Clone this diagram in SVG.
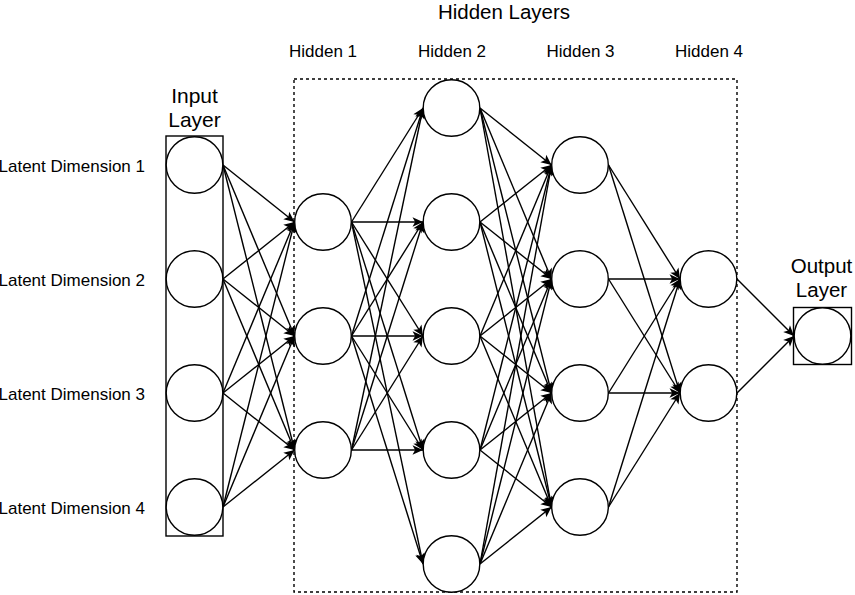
<svg xmlns="http://www.w3.org/2000/svg" width="855" height="595" viewBox="0 0 855 595">
<defs>
<style>
.n{fill:#fff;stroke:#000;stroke-width:1.4}
.box{fill:none;stroke:#000;stroke-width:1.4}
.dash{fill:none;stroke:#000;stroke-width:1.4;stroke-dasharray:3 3}
.e line{stroke:#000;stroke-width:1.4;marker-end:url(#arr)}
text{font-family:"Liberation Sans",Arial,Helvetica,sans-serif;fill:#000}
.lt{font-size:17px;text-anchor:end}
.hd{font-size:17px;text-anchor:middle}
.big{font-size:21px;text-anchor:middle}
</style>
<marker id="arr" markerUnits="userSpaceOnUse" markerWidth="12" markerHeight="10" refX="10.5" refY="5" orient="auto" overflow="visible">
<path d="M10.5,5 L0,0.2 L2.6,5 L0,9.8 Z" fill="#000"/>
</marker>
</defs>
<rect width="855" height="595" fill="#fff"/>
<g id="hidden-layers-frame">
<rect class="dash" x="294" y="79" width="443" height="513"/>
<text class="big" x="504" y="19" style="font-size:20.5px">Hidden Layers</text>
<text class="hd" x="323" y="57">Hidden 1</text>
<text class="hd" x="452" y="57">Hidden 2</text>
<text class="hd" x="580.5" y="57">Hidden 3</text>
<text class="hd" x="709" y="57">Hidden 4</text>
</g>
<g id="input-layer">
<rect class="box" x="166" y="136" width="57" height="400"/>
<text class="big" x="194.5" y="103">Input</text>
<text class="big" x="194.5" y="127">Layer</text>
</g>
<g id="output-layer">
<rect class="box" x="793.5" y="307.5" width="58" height="57"/>
<text class="big" x="821.5" y="273" style="font-size:20.5px">Output</text>
<text class="big" x="821.5" y="297" style="font-size:20.5px">Layer</text>
</g>
<g class="e" id="connectors">
<line x1="223" y1="165" x2="294.5" y2="222"/><line x1="223" y1="165" x2="294.5" y2="336"/><line x1="223" y1="165" x2="294.5" y2="450"/>
<line x1="223" y1="279" x2="294.5" y2="222"/><line x1="223" y1="279" x2="294.5" y2="336"/><line x1="223" y1="279" x2="294.5" y2="450"/>
<line x1="223" y1="393" x2="294.5" y2="222"/><line x1="223" y1="393" x2="294.5" y2="336"/><line x1="223" y1="393" x2="294.5" y2="450"/>
<line x1="223" y1="507" x2="294.5" y2="222"/><line x1="223" y1="507" x2="294.5" y2="336"/><line x1="223" y1="507" x2="294.5" y2="450"/>
<line x1="351.5" y1="222" x2="423" y2="108"/><line x1="351.5" y1="222" x2="423" y2="222"/><line x1="351.5" y1="222" x2="423" y2="336"/><line x1="351.5" y1="222" x2="423" y2="450"/><line x1="351.5" y1="222" x2="423" y2="564"/>
<line x1="351.5" y1="336" x2="423" y2="108"/><line x1="351.5" y1="336" x2="423" y2="222"/><line x1="351.5" y1="336" x2="423" y2="336"/><line x1="351.5" y1="336" x2="423" y2="450"/><line x1="351.5" y1="336" x2="423" y2="564"/>
<line x1="351.5" y1="450" x2="423" y2="108"/><line x1="351.5" y1="450" x2="423" y2="222"/><line x1="351.5" y1="450" x2="423" y2="336"/><line x1="351.5" y1="450" x2="423" y2="450"/>
<line x1="480" y1="108" x2="551.5" y2="165"/><line x1="480" y1="108" x2="551.5" y2="279"/><line x1="480" y1="108" x2="551.5" y2="393"/><line x1="480" y1="108" x2="551.5" y2="507"/>
<line x1="480" y1="222" x2="551.5" y2="165"/><line x1="480" y1="222" x2="551.5" y2="279"/><line x1="480" y1="222" x2="551.5" y2="393"/><line x1="480" y1="222" x2="551.5" y2="507"/>
<line x1="480" y1="336" x2="551.5" y2="165"/><line x1="480" y1="336" x2="551.5" y2="279"/><line x1="480" y1="336" x2="551.5" y2="393"/><line x1="480" y1="336" x2="551.5" y2="507"/>
<line x1="480" y1="450" x2="551.5" y2="165"/><line x1="480" y1="450" x2="551.5" y2="279"/><line x1="480" y1="450" x2="551.5" y2="393"/><line x1="480" y1="450" x2="551.5" y2="507"/>
<line x1="480" y1="564" x2="551.5" y2="165"/><line x1="480" y1="564" x2="551.5" y2="279"/><line x1="480" y1="564" x2="551.5" y2="393"/><line x1="480" y1="564" x2="551.5" y2="507"/>
<line x1="608.5" y1="165" x2="680" y2="279"/><line x1="608.5" y1="165" x2="680" y2="393"/>
<line x1="608.5" y1="279" x2="680" y2="279"/><line x1="608.5" y1="279" x2="680" y2="393"/>
<line x1="608.5" y1="393" x2="680" y2="279"/><line x1="608.5" y1="393" x2="680" y2="393"/>
<line x1="608.5" y1="507" x2="680" y2="279"/><line x1="608.5" y1="507" x2="680" y2="393"/>
<line x1="737" y1="279" x2="794" y2="336"/><line x1="737" y1="393" x2="794" y2="336"/>
</g>
<g id="in1"><circle class="n" cx="194.5" cy="165" r="28.3"/><text class="lt" x="145" y="171.5">Latent Dimension 1</text></g>
<g id="in2"><circle class="n" cx="194.5" cy="279" r="28.3"/><text class="lt" x="145" y="285.5">Latent Dimension 2</text></g>
<g id="in3"><circle class="n" cx="194.5" cy="393" r="28.3"/><text class="lt" x="145" y="399.5">Latent Dimension 3</text></g>
<g id="in4"><circle class="n" cx="194.5" cy="507" r="28.3"/><text class="lt" x="145" y="513.5">Latent Dimension 4</text></g>
<g id="h1a"><circle class="n" cx="323" cy="222" r="28.3"/></g>
<g id="h1b"><circle class="n" cx="323" cy="336" r="28.3"/></g>
<g id="h1c"><circle class="n" cx="323" cy="450" r="28.3"/></g>
<g id="h2a"><circle class="n" cx="451.5" cy="108" r="28.3"/></g>
<g id="h2b"><circle class="n" cx="451.5" cy="222" r="28.3"/></g>
<g id="h2c"><circle class="n" cx="451.5" cy="336" r="28.3"/></g>
<g id="h2d"><circle class="n" cx="451.5" cy="450" r="28.3"/></g>
<g id="h2e"><circle class="n" cx="451.5" cy="564" r="28.3"/></g>
<g id="h3a"><circle class="n" cx="580" cy="165" r="28.3"/></g>
<g id="h3b"><circle class="n" cx="580" cy="279" r="28.3"/></g>
<g id="h3c"><circle class="n" cx="580" cy="393" r="28.3"/></g>
<g id="h3d"><circle class="n" cx="580" cy="507" r="28.3"/></g>
<g id="h4a"><circle class="n" cx="708.5" cy="279" r="28.3"/></g>
<g id="h4b"><circle class="n" cx="708.5" cy="393" r="28.3"/></g>
<g id="out"><circle class="n" cx="822.5" cy="336" r="28.3"/></g>
</svg>
